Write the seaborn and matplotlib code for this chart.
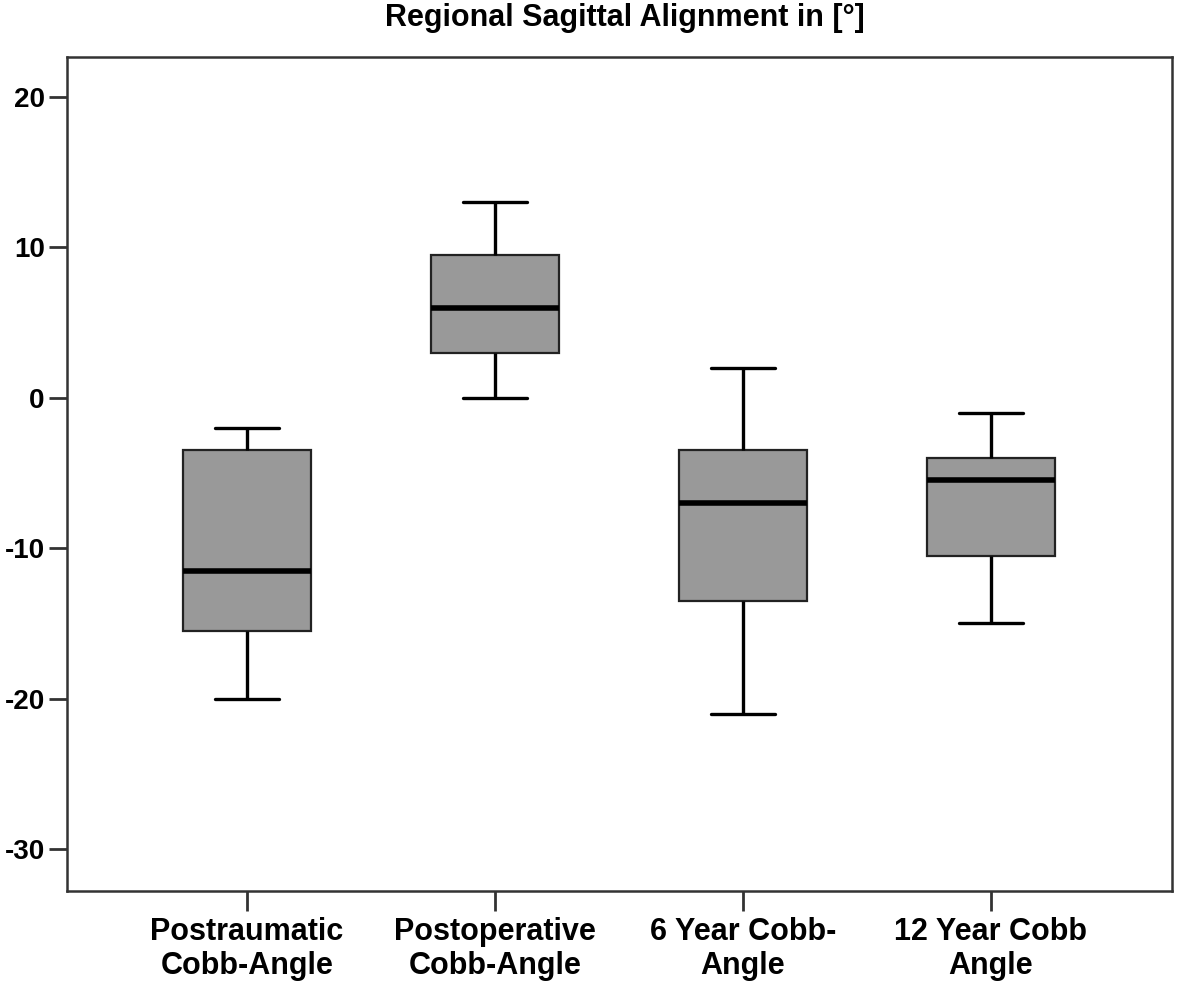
"""Regional sagittal alignment box plot."""

import matplotlib

matplotlib.use("Agg")
import matplotlib.pyplot as plt
import pandas as pd
import seaborn as sns

# Five-number summaries: whisker low, Q1, median, Q3, whisker high
CATEGORIES = [
    "Postraumatic\nCobb-Angle",
    "Postoperative\nCobb-Angle",
    "6 Year Cobb-\nAngle",
    "12 Year Cobb\nAngle",
]
POSTRAUMATIC = [-20, -15.5, -11.5, -3.5, -2]
POSTOPERATIVE = [0, 3, 6, 9.5, 13]
YEAR_6 = [-21, -13.5, -7, -3.5, 2]
YEAR_12 = [-15, -10.5, -5.5, -4, -1]
Y_TICKS = [20, 10, 0, -10, -20, -30]

rows = []
for cat, vals in zip(CATEGORIES, [POSTRAUMATIC, POSTOPERATIVE, YEAR_6, YEAR_12]):
    for v in vals:
        rows.append({"group": cat, "value": v})
df = pd.DataFrame(rows)

sns.set_style("white")
plt.rcParams["font.family"] = ["Liberation Sans", "DejaVu Sans"]

fig = plt.figure(figsize=(11.81, 9.84), dpi=100)
ax = fig.add_axes([0.0567, 0.0945, 0.9357, 0.8476])

sns.boxplot(
    data=df,
    x="group",
    y="value",
    order=CATEGORIES,
    whis=(0, 100),
    width=0.52,
    color="#999999",
    saturation=1,
    linecolor="black",
    boxprops={"linewidth": 1.6, "edgecolor": "#222222"},
    whiskerprops={"linewidth": 2.4, "color": "black"},
    capprops={"linewidth": 2.4, "color": "black"},
    medianprops={"linewidth": 4, "color": "black"},
    capwidths=0.26,
    ax=ax,
)

ax.set_xlim(-0.726, 3.73)
ax.set_ylim(-32.8, 22.66)
ax.set_yticks(Y_TICKS)
ax.set_yticklabels([str(t) for t in Y_TICKS], fontsize=20, fontweight="bold", color="black")
ax.set_xticks(range(len(CATEGORIES)))
ax.set_xticklabels(CATEGORIES, fontsize=22, fontweight="bold", linespacing=1.18, color="black")
ax.set_xlabel("")
ax.set_ylabel("")

for side in ax.spines.values():
    side.set_visible(True)
    side.set_linewidth(1.8)
    side.set_color("#333333")

ax.tick_params(axis="y", direction="out", length=13, width=2, color="#333333", pad=3, left=True)
ax.tick_params(axis="x", direction="out", length=14.5, width=2, color="#333333", pad=4, bottom=True)

fig.text(0.529, 0.982, "Regional Sagittal Alignment in [°]", ha="center", va="center",
         fontsize=22, fontweight="bold", color="black")

fig.savefig("out.png", dpi=100)
plt.close(fig)
